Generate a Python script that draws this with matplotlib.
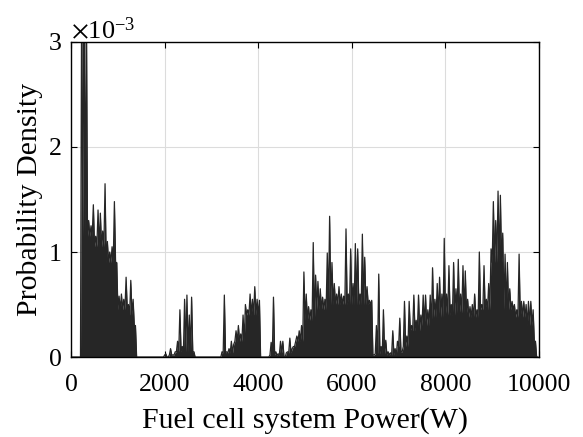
import numpy as np
import matplotlib.pyplot as plt
from matplotlib.ticker import ScalarFormatter

plt.rcParams['font.family'] = ['Liberation Serif', 'DejaVu Serif']
plt.rcParams['mathtext.fontset'] = 'stix'

# peak probability density per 50 W bin (units of 1e-3), 0 to 10000 W
bin_width = 50
density_e3 = [
    # 0 - 1000
    0, 0, 0, 0, 3.5, 3.5, 3.5, 1.3, 1.25, 1.45,
    1.15, 1.4, 1.37, 1.2, 1.65, 1.1, 1.0, 1.05, 1.48, 0.9,
    # 1000 - 2000
    0.58, 0.6, 0.55, 0.76, 0.5, 0.73, 0.55, 0.3, 0, 0,
    0, 0, 0, 0, 0, 0, 0, 0, 0, 0,
    # 2000 - 3000
    0.03, 0, 0.08, 0.02, 0.05, 0.15, 0.45, 0.1, 0.55, 0.59,
    0.4, 0.57, 0.05, 0, 0, 0, 0, 0, 0, 0,
    # 3000 - 4000
    0, 0, 0, 0, 0.05, 0.59, 0.05, 0.08, 0.15, 0.12,
    0.25, 0.3, 0.22, 0.4, 0.5, 0.45, 0.6, 0.55, 0.67, 0.55,
    # 4000 - 5000
    0.54, 0, 0, 0, 0, 0.14, 0.57, 0.05, 0.03, 0.15,
    0.15, 0, 0.05, 0.18, 0.08, 0.1, 0.2, 0.25, 0.3, 0.81,
    # 5000 - 6000
    0.6, 0.48, 0.45, 1.09, 0.78, 0.72, 0.65, 0.57, 0.55, 0.99,
    1.34, 0.9, 0.7, 0.6, 0.67, 0.6, 0.58, 1.22, 0.6, 1.03,
    # 6000 - 7000
    0.7, 1.08, 1.03, 0.6, 1.17, 0.95, 0.67, 0.54, 0.54, 0.02,
    0.3, 0.79, 0.1, 0.45, 0.16, 0.05, 0.04, 0.25, 0.08, 0.15,
    # 7000 - 8000
    0.37, 0.05, 0.53, 0.2, 0.53, 0.3, 0.59, 0.35, 0.59, 0.4,
    0.59, 0.59, 0.45, 0.59, 0.85, 0.55, 0.7, 0.76, 0.6, 1.13,
    # 8000 - 9000
    0.6, 0.87, 0.5, 0.9, 0.65, 0.93, 0.6, 0.87, 0.82, 0.55,
    0.48, 0.5, 0.6, 0.45, 1.0, 0.5, 0.87, 0.55, 0.7, 1.03,
    # 9000 - 10000
    1.48, 1.3, 1.58, 1.54, 1.18, 0.98, 0.9, 0.65, 0.53, 0.5,
    0.45, 0.98, 0.53, 0.53, 0.5, 0.53, 0.53, 0.45, 0.15, 0,
]

# low level the curve drops to between spikes, per 250 W segment (units of 1e-3)
seg_width = 250
floor_e3 = [
    0, 1.15, 1.05, 0.9, 0.45, 0.4, 0, 0,
    0.02, 0.05, 0.05, 0, 0, 0.04, 0.15, 0.4,
    0.4, 0.02, 0.04, 0.15, 0.35, 0.45, 0.5, 0.5,
    0.5, 0.5, 0.03, 0.02, 0.1, 0.25, 0.3, 0.38,
    0.4, 0.42, 0.38, 0.45, 0.9, 0.45, 0.38, 0.3,
]

centers = np.arange(len(density_e3)) * bin_width + bin_width / 2
edges = np.arange(len(density_e3)) * bin_width
peak = np.array(density_e3) * 1e-3
floor = np.minimum(np.repeat(floor_e3, seg_width // bin_width) * 1e-3, peak)

# curve alternates: floor at each bin edge, peak at each bin centre
x = np.column_stack([edges, centers]).ravel()
y = np.column_stack([floor, peak]).ravel()

fig, ax = plt.subplots(figsize=(5.83, 4.37), dpi=100)
fig.subplots_adjust(left=0.122, right=0.9245, bottom=0.183, top=0.904)

col = '#262626'
ax.fill_between(x, 0, y, color=col, lw=0)
ax.plot(x, y, color=col, lw=0.9)

ax.set_xlim(0, 10000)
ax.set_ylim(0, 3e-3)
ax.set_xticks([0, 2000, 4000, 6000, 8000, 10000])
ax.set_yticks([0, 1e-3, 2e-3, 3e-3])
fmt = ScalarFormatter(useMathText=True)
fmt.set_powerlimits((-2, 2))
ax.yaxis.set_major_formatter(fmt)
ax.yaxis.get_offset_text().set_fontsize(19)

ax.grid(True, color='#dcdcdc', lw=0.8)
ax.set_axisbelow(True)
ax.tick_params(direction='in', top=True, right=True, labelsize=18.5, length=4)
ax.tick_params(axis='x', pad=12)
ax.tick_params(axis='y', pad=7)
for s in ax.spines.values():
    s.set_linewidth(1.0)

ax.set_xlabel('Fuel cell system Power(W)', fontsize=21.5, labelpad=8)
ax.set_ylabel('Probability Density', fontsize=21.5, labelpad=3)

fig.savefig('out.png', dpi=100)
